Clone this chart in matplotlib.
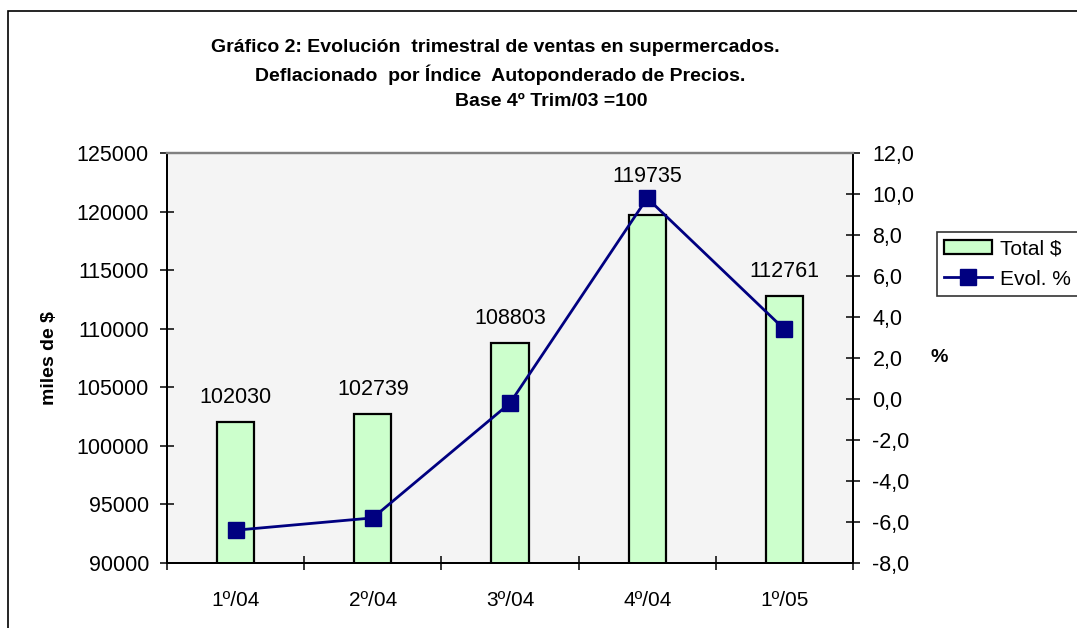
import matplotlib
matplotlib.use("Agg")
import matplotlib.pyplot as plt
from matplotlib.patches import Rectangle
from matplotlib.ticker import FixedLocator, FuncFormatter
import numpy as np

# ================================
# Data
# ================================
trimestres = ["1º/04", "2º/04", "3º/04", "4º/04", "1º/05"]
total_pesos = [102030, 102739, 108803, 119735, 112761]
evol_pct = [-6.4, -5.8, -0.2, 9.8, 3.4]

titulo = [
    "Gráfico 2: Evolución  trimestral de ventas en supermercados.",
    "Deflacionado  por Índice  Autoponderado de Precios.",
    "Base 4º Trim/03 =100",
]

plt.rcParams["font.family"] = ["Liberation Sans", "DejaVu Sans"]
plt.rcParams["axes.unicode_minus"] = False

W, H = 1077, 628
fig = plt.figure(figsize=(W / 100, H / 100), dpi=100)

# chart area frame (runs past the right and bottom edge)
fig.patches.append(Rectangle((8 / W, -0.2), 1.2, 1.2 - 11 / H,
                             transform=fig.transFigure, fill=False,
                             edgecolor="black", linewidth=1.2))

ax = fig.add_axes([167 / W, 1 - 563 / H, (853 - 167) / W, (563 - 153) / H])
ax.set_facecolor("#F4F4F4")

x = np.arange(len(trimestres))
bars = ax.bar(x, total_pesos, width=0.27, color="#CCFFCC",
              edgecolor="black", linewidth=1.6, zorder=2)
ax.set_ylim(90000, 125000)
ax.set_xlim(-0.5, len(trimestres) - 0.5)
ax.set_yticks(np.arange(90000, 125001, 5000))

# data labels above bars (the 4th one sits above the marker)
for i, (xi, v) in enumerate(zip(x, total_pesos)):
    off = 20 if i == 3 else 10
    ax.annotate(f"{v}", (xi, v), xytext=(0, off), textcoords="offset points",
                ha="center", va="bottom", fontsize=15.5, zorder=5)

ax.set_xticks(x)
ax.set_xticklabels(trimestres, fontsize=15)
ax.xaxis.set_minor_locator(FixedLocator(np.arange(-0.5, len(trimestres), 1.0)))
ax.tick_params(axis="x", which="major", length=0, pad=20)
ax.tick_params(axis="x", which="minor", direction="inout", length=10, width=1.1)
ax.tick_params(axis="y", direction="inout", length=10, width=1.1,
               labelsize=15.5, pad=8)

ax.set_ylabel("miles de $", fontsize=14, fontweight="bold", labelpad=13)

ax2 = ax.twinx()
ax2.plot(x, evol_pct, color="#000080", linewidth=2, marker="s",
         markersize=11, markerfacecolor="#000080", markeredgecolor="#000080",
         zorder=4, label="Evol. %")
ax2.set_ylim(-8, 12)
ax2.set_yticks(np.arange(-8, 12.1, 2))
ax2.yaxis.set_major_formatter(FuncFormatter(lambda v, p: f"{v:.1f}".replace(".", ",")))
ax2.tick_params(axis="y", direction="inout", length=10, width=1.1,
                labelsize=15.5, pad=9)
ax2.set_ylabel("%", fontsize=14, fontweight="bold", rotation=0,
               va="center", labelpad=18)

for a in (ax, ax2):
    for s in ("left", "right", "bottom"):
        a.spines[s].set_linewidth(1.4)
        a.spines[s].set_color("black")
    a.spines["top"].set_color("#808080")
    a.spines["top"].set_linewidth(1.6)

# legend
handles = [bars, ax2.lines[0]]
leg = fig.legend(handles, ["Total $", "Evol. %"], loc="upper left",
                 bbox_to_anchor=(937 / W, 1 - 232 / H), fontsize=15,
                 frameon=True, fancybox=False, edgecolor="black",
                 handlelength=2.3, handletextpad=0.35, borderpad=0.35,
                 labelspacing=0.55, borderaxespad=0)
leg.get_frame().set_linewidth(1.2)

# title lines
title_pos = [(495, 47), (500, 75), (551, 102)]
for txt, (tx, ty) in zip(titulo, title_pos):
    fig.text(tx / W, 1 - ty / H, txt, ha="center", va="center",
             fontsize=14, fontweight="bold")

fig.savefig("out.png", dpi=100)
